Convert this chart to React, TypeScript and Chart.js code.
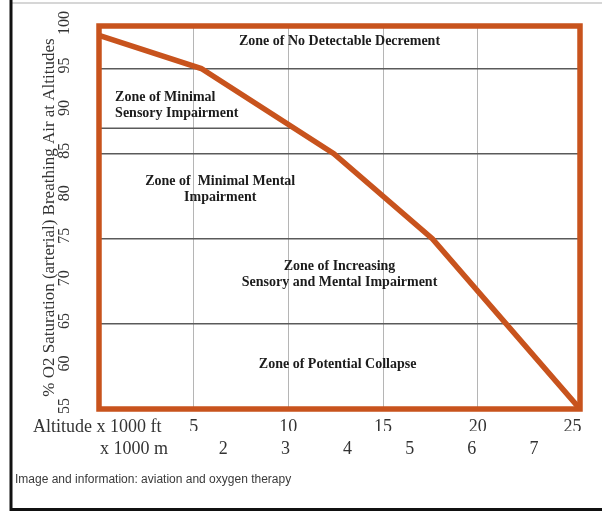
import React, { useEffect, useRef } from "react";
import { Chart, registerables } from "chart.js";

Chart.register(...registerables);

// ---- data ----
const altitudeFt = [0, 5.4, 12.4, 17.6, 25.4];
const saturationPct = [98.9, 95, 85, 75, 55];
const ftTicks = [5, 10, 15, 20, 25];
const mTicks = [2, 3, 4, 5, 6, 7];
const satTicks = [55, 60, 65, 70, 75, 80, 85, 90, 95, 100];
const zoneBoundaries = [95, 85, 75, 65];
const partialBoundaryX = [0, 10.3];
const partialBoundaryY = [88, 88];
const ftMax = 25.4;
const satMin = 55;
const satMax = 100;

const zoneLines = [
  ["Zone of No Detectable Decrement"],
  ["Zone of Minimal", "Sensory Impairment"],
  ["Zone of  Minimal Mental", "Impairment"],
  ["Zone of Increasing", "Sensory and Mental Impairment"],
  ["Zone of Potential Collapse"],
];
const zoneAltitude = [12.7, 0.85, 6.4, 12.7, 12.6];
const zoneSaturation = [98.2, 90.7, 80.8, 70.8, 60.2];
const zoneAlign = ["center", "left", "center", "center", "center"];

const yTitle = "% O2 Saturation (arterial) Breathing Air at Altitudes";
const ftLabel = "Altitude x 1000 ft";
const mLabel = "x 1000 m";
const footer = "Image and information: aviation and oxygen therapy";

const ORANGE = "#c8531d";
const SERIF = "'Liberation Serif', 'Times New Roman', serif";

const noPad = (s: any) => {
  s.paddingTop = 0;
  s.paddingBottom = 0;
  s.paddingLeft = 0;
  s.paddingRight = 0;
};

const decorPlugin = {
  id: "decor",
  beforeDraw(chart: any) {
    const ctx = chart.ctx;
    ctx.save();
    ctx.fillStyle = "#ffffff";
    ctx.fillRect(0, 0, chart.width, chart.height);
    // outer frame (left + bottom black, top faint grey)
    ctx.strokeStyle = "#d6d6d6";
    ctx.lineWidth = 2;
    ctx.beginPath();
    ctx.moveTo(11, 3);
    ctx.lineTo(chart.width, 3);
    ctx.stroke();
    ctx.strokeStyle = "#111111";
    ctx.lineWidth = 3;
    ctx.beginPath();
    ctx.moveTo(11, 0);
    ctx.lineTo(11, 509.5);
    ctx.lineTo(chart.width, 509.5);
    ctx.stroke();
    ctx.restore();
  },
  afterDatasetsDraw(chart: any) {
    const { ctx, chartArea } = chart;
    ctx.save();
    ctx.strokeStyle = ORANGE;
    ctx.lineWidth = 5.5;
    ctx.strokeRect(
      chartArea.left,
      chartArea.top,
      chartArea.right - chartArea.left,
      chartArea.bottom - chartArea.top
    );
    ctx.restore();
  },
  afterDraw(chart: any) {
    const { ctx } = chart;
    const xs = chart.scales.x;
    const ys = chart.scales.y;
    const xm = chart.scales.xm;
    ctx.save();
    // zone labels
    ctx.fillStyle = "#1c1c1c";
    ctx.font = `bold 14px ${SERIF}`;
    ctx.textBaseline = "middle";
    zoneLines.forEach((lines, i) => {
      const px = xs.getPixelForValue(zoneAltitude[i]);
      const py = ys.getPixelForValue(zoneSaturation[i]);
      const lh = 16;
      ctx.textAlign = zoneAlign[i];
      lines.forEach((t, j) => {
        ctx.fillText(t, px, py + (j - (lines.length - 1) / 2) * lh);
      });
    });
    // axis row labels
    ctx.fillStyle = "#333333";
    ctx.font = `18px ${SERIF}`;
    ctx.textAlign = "left";
    const ftRowY = xs.top + 7 + 10.8;
    ctx.fillText(ftLabel, 33, ftRowY);
    const mRowY = xm.top + 7 + 10.8;
    ctx.fillText(mLabel, 100, mRowY);
    // footer
    ctx.font = "12px 'Liberation Sans', Arial, sans-serif";
    ctx.fillStyle = "#3a3a3a";
    ctx.fillText(footer, 15, 480);
    ctx.restore();
  },
};

export default function App() {
  const ref = useRef<HTMLCanvasElement | null>(null);

  useEffect(() => {
    if (!ref.current) return;
    const curve = altitudeFt.map((x, i) => ({ x, y: saturationPct[i] }));
    const partial = partialBoundaryX.map((x, i) => ({ x, y: partialBoundaryY[i] }));

    const chart = new Chart(ref.current, {
      type: "line",
      data: {
        datasets: [
          {
            data: curve,
            borderColor: ORANGE,
            borderWidth: 5.5,
            pointRadius: 0,
            tension: 0,
            xAxisID: "x",
            yAxisID: "y",
            order: 0,
          },
          {
            data: partial,
            borderColor: "#5a5a5a",
            borderWidth: 1.5,
            pointRadius: 0,
            tension: 0,
            xAxisID: "x",
            yAxisID: "y",
            order: 1,
          },
        ],
      },
      plugins: [decorPlugin],
      options: {
        animation: false,
        responsive: false,
        maintainAspectRatio: false,
        events: [],
        layout: { padding: { left: 0, top: 26, right: 22, bottom: 55 } },
        plugins: { legend: { display: false }, tooltip: { enabled: false } },
        scales: {
          x: {
            type: "linear",
            position: "bottom",
            weight: 0,
            min: 0,
            max: ftMax,
            afterBuildTicks: (s: any) => {
              s.ticks = ftTicks.map((v) => ({ value: v }));
            },
            afterFit: (s: any) => {
              s.height = 22;
              noPad(s);
            },
            grid: {
              drawTicks: false,
              lineWidth: 1,
              color: (c: any) =>
                c.tick && ftTicks.slice(0, 4).includes(c.tick.value) ? "#b5b5b5" : "rgba(0,0,0,0)",
            },
            border: { display: false },
            ticks: {
              padding: 7,
              maxRotation: 0,
              minRotation: 0,
              autoSkip: false,
              color: "#333333",
              font: { family: SERIF, size: 18 },
              callback: (v: any) => String(v),
            },
          },
          xm: {
            type: "linear",
            position: "bottom",
            weight: 1,
            min: 0,
            max: ftMax * 0.3048,
            afterBuildTicks: (s: any) => {
              s.ticks = mTicks.map((v) => ({ value: v }));
            },
            afterFit: (s: any) => {
              s.height = 28;
              noPad(s);
            },
            grid: { display: false, drawTicks: false },
            border: { display: false },
            ticks: {
              padding: 7,
              maxRotation: 0,
              minRotation: 0,
              autoSkip: false,
              color: "#333333",
              font: { family: SERIF, size: 18 },
              callback: (v: any) => String(v),
            },
          },
          y: {
            type: "linear",
            position: "left",
            min: satMin,
            max: satMax,
            afterBuildTicks: (s: any) => {
              s.ticks = satTicks.map((v) => ({ value: v }));
            },
            afterFit: (s: any) => {
              s.width = 99;
              noPad(s);
            },
            grid: {
              drawTicks: false,
              lineWidth: 1.5,
              color: (c: any) =>
                c.tick && zoneBoundaries.includes(c.tick.value) ? "#5a5a5a" : "rgba(0,0,0,0)",
            },
            border: { display: false },
            title: {
              display: true,
              text: yTitle,
              color: "#333333",
              font: { family: SERIF, size: 17 },
              padding: { top: 39, bottom: 0 },
            },
            ticks: {
              padding: 22,
              labelOffset: -3,
              minRotation: 90,
              maxRotation: 90,
              crossAlign: "center",
              autoSkip: false,
              color: "#333333",
              font: { family: SERIF, size: 16 },
              callback: (v: any) => String(v),
            },
          },
        },
      },
    } as any);
    return () => chart.destroy();
  }, []);

  return (
    <div style={{ position: "fixed", left: 0, top: 0, width: 602, height: 514, background: "#fff" }}>
      <canvas ref={ref} width={602} height={514} style={{ width: 602, height: 514, display: "block" }} />
    </div>
  );
}
